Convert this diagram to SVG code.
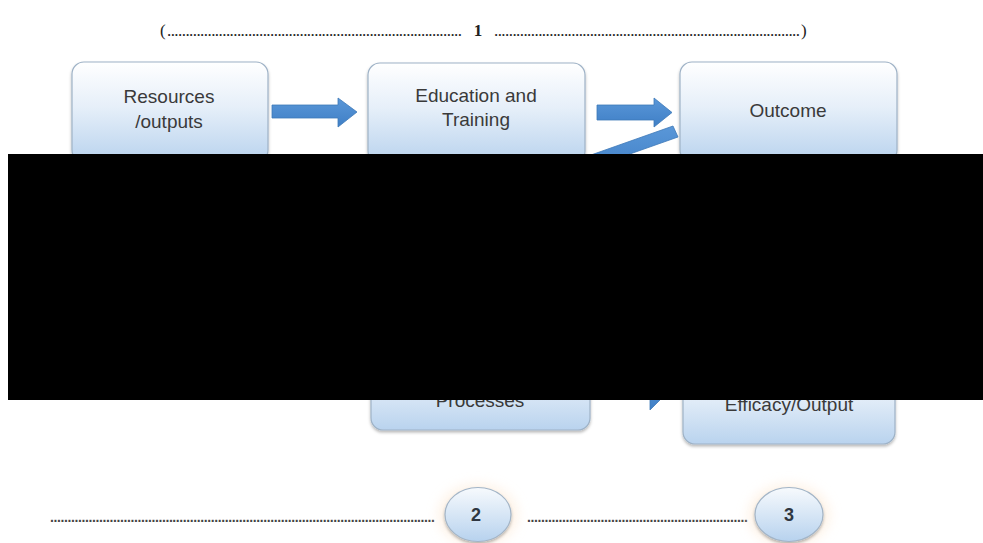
<svg xmlns="http://www.w3.org/2000/svg" width="983" height="543" viewBox="0 0 983 543">
<defs>
<linearGradient id="boxGrad" x1="0" y1="0" x2="0" y2="1">
<stop offset="0" stop-color="#ffffff"/>
<stop offset="0.45" stop-color="#e6eff9"/>
<stop offset="1" stop-color="#b9d3ee"/>
</linearGradient>
<linearGradient id="circGrad" x1="0" y1="0" x2="0" y2="1">
<stop offset="0" stop-color="#f7fafd"/>
<stop offset="1" stop-color="#b7d2ee"/>
</linearGradient>
<linearGradient id="arrowGrad" x1="0" y1="0" x2="0" y2="1">
<stop offset="0" stop-color="#5a97d8"/>
<stop offset="1" stop-color="#3f7fc6"/>
</linearGradient>
<filter id="shadow" x="-10%" y="-10%" width="120%" height="130%">
<feDropShadow dx="0" dy="2" stdDeviation="1.8" flood-color="#000" flood-opacity="0.28"/>
</filter>
<filter id="glow" x="-30%" y="-30%" width="160%" height="160%">
<feGaussianBlur stdDeviation="6"/>
</filter>
</defs>
<style>
.box{fill:url(#boxGrad);stroke:#9eb2c6;stroke-width:1.2;filter:url(#shadow)}
.circ{fill:url(#circGrad);stroke:#a3b5c7;stroke-width:1.2;filter:url(#shadow)}
.lbl{font-family:"Liberation Sans",Arial,sans-serif;font-size:19px;fill:#3a3a3a;text-anchor:middle}
.num{font-family:"Liberation Sans",Arial,sans-serif;font-size:18px;font-weight:bold;fill:#2f3640;text-anchor:middle}
.ser{font-family:"Liberation Serif","Times New Roman",serif;font-size:17px;fill:#222}
.dots{font-family:"Liberation Sans",Arial,sans-serif;font-size:14px;font-weight:bold;fill:#444}
.arr{fill:url(#arrowGrad);stroke:#3d78b8;stroke-width:0.8}
</style>
<rect width="983" height="543" fill="#ffffff"/>

<g id="bracket1">
<text class="ser" x="160" y="36">(</text>
<text class="ser" x="167" y="36" textLength="295" lengthAdjust="spacing">................................................................................</text>
<text class="ser" x="478" y="36" text-anchor="middle" font-weight="bold">1</text>
<text class="ser" x="494" y="36" textLength="306" lengthAdjust="spacing">...................................................................................</text>
<text class="ser" x="801" y="36">)</text>
</g>

<g id="node-resources">
<rect class="box" x="72" y="62" width="196" height="100" rx="12"/>
<text class="lbl" x="169" y="103">Resources</text>
<text class="lbl" x="169" y="128">/outputs</text>
</g>

<g id="node-education">
<rect class="box" x="368" y="63" width="217" height="100" rx="12"/>
<text class="lbl" x="476" y="102">Education and</text>
<text class="lbl" x="476" y="126">Training</text>
</g>

<g id="node-outcome">
<rect class="box" x="680" y="62" width="217" height="100" rx="12"/>
<text class="lbl" x="788" y="117">Outcome</text>
</g>

<g id="node-processes">
<rect class="box" x="371" y="340" width="219" height="90" rx="12"/>
<text class="lbl" x="480" y="407">Processes</text>
</g>

<g id="node-efficacy">
<rect class="box" x="683" y="354" width="212" height="90" rx="12"/>
<text class="lbl" x="789" y="411">Efficacy/Output</text>
</g>

<g id="connectors">
<polygon class="arr" points="272,105 338,105 338,98 357,112 338,127 338,118 272,118"/>
<polygon class="arr" points="597,105 654,105 654,98 672,112.5 654,127 654,120 597,120"/>
<polygon class="arr" points="673,126 678,137 562,178 557,167"/>
<polygon class="arr" points="600,386 650,386 650,374 668,392 650,410 650,398 600,398"/>
</g>

<rect id="redaction" x="8" y="154" width="975" height="246" fill="#000000"/>

<g id="bracket2">
<text class="dots" x="50" y="522" textLength="385" lengthAdjust="spacing">..............................................................................................................</text>
<text class="dots" x="527" y="522" textLength="221" lengthAdjust="spacing">...............................................................</text>
</g>

<g id="node-2">
<ellipse cx="478" cy="515" rx="40" ry="31" fill="#fde6cf" opacity="0.5" filter="url(#glow)"/>
<ellipse class="circ" cx="478" cy="514.5" rx="33" ry="27"/>
<text class="num" x="476" y="521">2</text>
</g>

<g id="node-3">
<ellipse cx="789" cy="515" rx="41" ry="31" fill="#fde6cf" opacity="0.5" filter="url(#glow)"/>
<ellipse class="circ" cx="789" cy="514.5" rx="34" ry="27"/>
<text class="num" x="789" y="521">3</text>
</g>
</svg>
